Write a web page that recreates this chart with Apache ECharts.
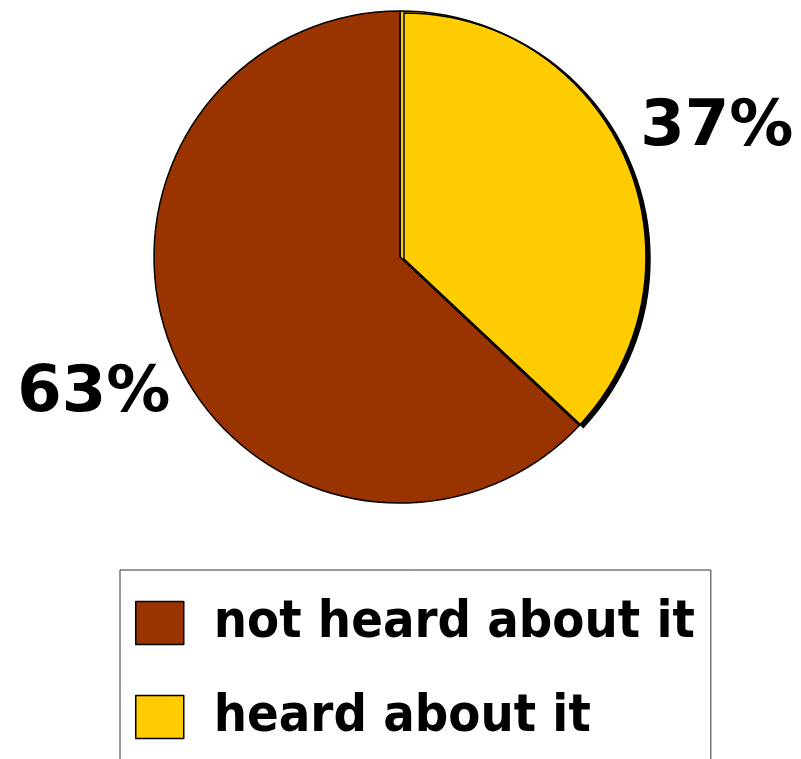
<!DOCTYPE html>
<html>
<head>
<meta charset="utf-8">
<script src="https://cdn.jsdelivr.net/npm/echarts@6/dist/echarts.min.js"></script>
<style>
  html, body { margin: 0; padding: 0; background: #fff; }
  #chart { width: 801px; height: 759px; }
</style>
</head>
<body>
<div id="chart"></div>
<script>
// Survey answers, clockwise from twelve o'clock
const categories = ['heard about it', 'not heard about it'];
const shares = [37, 63];
const sliceColors = ['#FFCC00', '#993300'];
const legendOrder = ['not heard about it', 'heard about it'];

// hidden leader lines: radial length and (negative) horizontal run per slice
const leaderLength = [79, 99];
const leaderRun = [-63, -92];

const chart = echarts.init(document.getElementById('chart'), null, { renderer: 'canvas' });

const pieData = categories.map((name, i) => {
  const item = {
    name: name,
    value: shares[i],
    itemStyle: { color: sliceColors[i] },
    labelLine: { show: false, length: leaderLength[i], length2: leaderRun[i] }
  };
  if (i === 0) {
    // the yellow slice carries a hard drop shadow on its outer rim
    item.itemStyle.shadowColor = '#000';
    item.itemStyle.shadowOffsetX = 4;
    item.itemStyle.shadowOffsetY = 2;
    item.itemStyle.shadowBlur = 0;
  }
  return item;
});

chart.setOption({
  animation: false,
  backgroundColor: '#ffffff',
  legend: {
    data: legendOrder,
    orient: 'vertical',
    left: 120,
    top: 570,
    height: 220,
    padding: [27, 16, 31, 15],
    itemWidth: 48,
    itemHeight: 43,
    itemGap: 42,
    icon: 'rect',
    borderColor: '#333',
    borderWidth: 1,
    itemStyle: { borderColor: '#000', borderWidth: 1.5, shadowBlur: 0, shadowOffsetX: 0, shadowOffsetY: 0 },
    textStyle: {
      fontFamily: '"DejaVu Sans Condensed", "DejaVu Sans", sans-serif',
      fontWeight: 'bold',
      fontSize: 52,
      lineHeight: 43,
      color: '#000',
      padding: [0, 0, 0, 25]
    }
  },
  series: [{
    type: 'pie',
    center: [400, 257],
    radius: 246,
    startAngle: 90,
    clockwise: true,
    data: pieData,
    itemStyle: { borderColor: '#000', borderWidth: 1.5 },
    label: {
      show: true,
      position: 'outside',
      formatter: '{c}%',
      overflow: 'none',
      fontFamily: '"DejaVu Sans", sans-serif',
      fontWeight: 'bold',
      fontSize: 64,
      color: '#000'
    },
    labelLine: { show: false },
    emphasis: { disabled: true }
  }]
});
</script>
</body>
</html>
